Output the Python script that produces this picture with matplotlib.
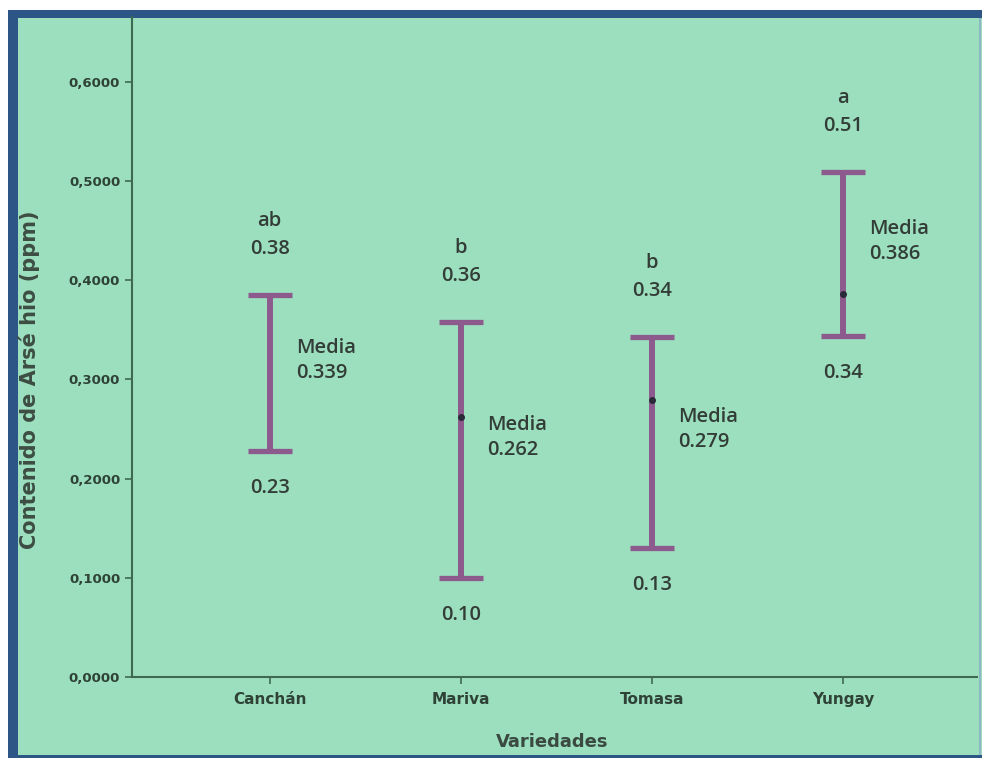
#!/usr/bin/env python3
"""Intervalos de contenido de arsénico por variedad (barras min-max con media)."""
import matplotlib
matplotlib.use("Agg")
import matplotlib.pyplot as plt
from matplotlib.patches import Rectangle

# Datos
variedades = ["Canchán", "Mariva", "Tomasa", "Yungay"]
minimos = [0.228, 0.100, 0.130, 0.344]
maximos = [0.385, 0.358, 0.343, 0.509]
medias = [0.339, 0.262, 0.279, 0.386]
mostrar_media = [False, True, True, True]
letras = ["ab", "b", "b", "a"]
etiq_max = ["0.38", "0.36", "0.34", "0.51"]
etiq_min = ["0.23", "0.10", "0.13", "0.34"]
etiq_media = ["0.339", "0.262", "0.279", "0.386"]
yticks = [0.0, 0.1, 0.2, 0.3, 0.4, 0.5, 0.6]

MINT = "#9cdfbe"
BORDER = "#2d5585"
PURPLE = "#8c5a8c"
TXT = "#333d37"
AXCOL = "#3f6a52"

W, H = 982, 759
fig = plt.figure(figsize=(W / 100, H / 100), dpi=100)
fig.patch.set_facecolor("white")

# marco azul (grueso arriba/izquierda, fino abajo/derecha) y fondo verde
def px_rect(x0, y0, x1, y1, color, z):
    fig.patches.append(Rectangle((x0 / W, 1 - y1 / H), (x1 - x0) / W, (y1 - y0) / H,
                                 transform=fig.transFigure, facecolor=color,
                                 edgecolor="none", zorder=z))

px_rect(8, 10, 982, 758, BORDER, 0)
px_rect(18, 18, 982, 755, MINT, 1)
px_rect(979, 18, 981, 755, "#8fb6c4", 1)

ax = fig.add_axes([132 / W, (H - 677) / H, (977 - 132) / W, (677 - 17) / H])
ax.set_facecolor("none")
ax.set_zorder(2)

x = list(range(len(variedades)))
mids = [(lo + hi) / 2 for lo, hi in zip(minimos, maximos)]
yerr = [[m - lo for m, lo in zip(mids, minimos)], [hi - m for m, hi in zip(mids, maximos)]]
ax.errorbar(x, mids, yerr=yerr, fmt="none", ecolor=PURPLE, elinewidth=4.3,
            capsize=16, capthick=3.8, zorder=3)
for xi, m, show in zip(x, medias, mostrar_media):
    if show:
        ax.plot(xi, m, "o", color="#2a2a38", markersize=4, zorder=4)

font_txt = dict(family=["Open Sans", "DejaVu Sans"], fontsize=14.5, color=TXT,
                fontweight="semibold")
for xi, lo, hi, mid, le, tmax, tmin, tmed in zip(x, minimos, maximos, mids, letras,
                                                  etiq_max, etiq_min, etiq_media):
    ax.annotate(tmax, (xi, hi), xytext=(0, 33), textcoords="offset points",
                ha="center", va="center", **font_txt)
    ax.annotate(le, (xi, hi), xytext=(0, 53), textcoords="offset points",
                ha="center", va="center", **font_txt)
    ax.annotate(tmin, (xi, lo), xytext=(0, -27), textcoords="offset points",
                ha="center", va="center", **font_txt)
    ax.annotate("Media\n" + tmed, (xi, mid), xytext=(19, 9), textcoords="offset points",
                ha="left", va="center", linespacing=1.35, **font_txt)

ax.set_xlim(-0.72, 3.70)
ax.set_ylim(0, 0.665)
ax.set_xticks(x)
ax.set_xticklabels(variedades, fontsize=11, fontweight="bold", color="#2e4236")
ax.set_yticks(yticks)
ax.set_yticklabels([f"{v:.4f}".replace(".", ",") for v in yticks],
                   fontsize=9.5, fontweight="bold", color="#2e4236")
ax.tick_params(axis="both", colors=AXCOL, length=5, width=1.2, labelcolor="#2e4236")
ax.tick_params(axis="x", pad=6)

for s in ["top", "right"]:
    ax.spines[s].set_visible(False)
for s in ["left", "bottom"]:
    ax.spines[s].set_color(AXCOL)
    ax.spines[s].set_linewidth(1.5)

ax.set_ylabel("Contenido de Arsé hio (ppm)", fontsize=15, fontweight="bold", color="#3d4d44")
ax.yaxis.set_label_coords(-0.109, 0.45)
ax.set_xlabel("Variedades", fontsize=13, fontweight="bold", color="#3b4a40")
ax.xaxis.set_label_coords(0.497, -0.085)

fig.savefig("out.png", dpi=100, facecolor=fig.get_facecolor())
